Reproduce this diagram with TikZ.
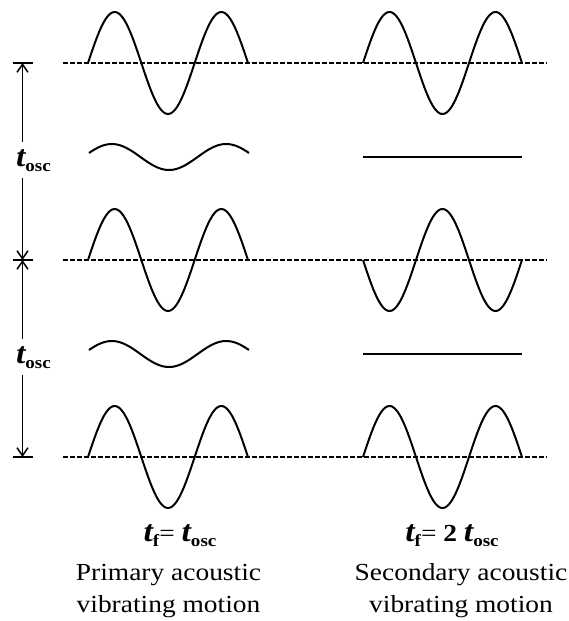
\documentclass[tikz,border=0pt]{standalone}
\usepackage{fontspec}
\setmainfont{Liberation Serif}[FakeStretch=1.12]
\usetikzlibrary{arrows.meta}

\newcommand{\tvar}[1]{{\fontsize{30}{30}\selectfont\bfseries\itshape t}\raisebox{-5pt}{\fontsize{17}{17}\selectfont\bfseries #1}}

\begin{document}
\begin{tikzpicture}[
        x=1pt, y=-1pt,
        font=\fontsize{24.5}{32}\selectfont,
        wave/.style={line width=2pt, line join=round},
        zeroline/.style={line width=1.5pt, dash pattern=on 4.5pt off 2.5pt},
        flatline/.style={line width=2pt},
        dimline/.style={line width=1.8pt, -{Straight Barb[length=8pt,width=11pt,line width=1.5pt]}},
        tickbar/.style={line width=2pt},
        caption/.style={anchor=base, inner sep=0pt}
    ]
    \useasboundingbox (0,0) rectangle (568,621);

    % ===== Zero lines =====
    \foreach \yy in {63,260,457}
        \draw[zeroline] (63,\yy) -- (547,\yy);

    % ===== Primary motion (left column) =====
    \foreach \yy in {63,260,457}
        \draw[wave] plot[domain=0:3, samples=90] ({88+160*\x/3}, {\yy-51*sin(180*\x)});
    \foreach \yy in {157,354}
        \draw[wave] plot[domain=0.1:2.9, samples=80] ({89+160*(\x-0.1)/2.8}, {\yy-13*sin(180*\x)});

    % ===== Secondary motion (right column) =====
    \foreach \yy/\sgn in {63/1,260/-1,457/1}
        \draw[wave] plot[domain=0:3, samples=90] ({363+159*\x/3}, {\yy-51*\sgn*sin(180*\x)});
    \foreach \yy in {157,354}
        \draw[flatline] (363,\yy) -- (522,\yy);

    % ===== Period markers =====
    \coordinate (tick1) at (22.5,63);
    \coordinate (tick2) at (22.5,260);
    \coordinate (tick3) at (22.5,457);
    \foreach \t in {tick1,tick2,tick3}
        \draw[tickbar] ([xshift=-10pt]\t) -- ([xshift=10pt]\t);

    \node[anchor=base, inner ysep=7pt] (osc1) at (33.5,166) {\tvar{osc}};
    \node[anchor=base, inner ysep=7pt] (osc2) at (33.5,363) {\tvar{osc}};
    \draw[dimline] (osc1.north -| tick1) -- (tick1);
    \draw[dimline] (osc1.south -| tick1) -- (tick2);
    \draw[dimline] (osc2.north -| tick2) -- (tick2);
    \draw[dimline] (osc2.south -| tick2) -- (tick3);

    % ===== Captions =====
    \node[caption] (primform) at (180,541) {\tvar{f}= \tvar{osc}};
    \node[caption] (primtext) at (168.5,580) {Primary acoustic};
    \node[caption] (primtext2) at (168.5,612) {vibrating motion};

    \node[caption] (secform) at (452,541) {\tvar{f}= \textbf{2} \tvar{osc}};
    \node[caption] (sectext) at (461,580) {Secondary acoustic};
    \node[caption] (sectext2) at (461,612) {vibrating motion};

\end{tikzpicture}
\end{document}
